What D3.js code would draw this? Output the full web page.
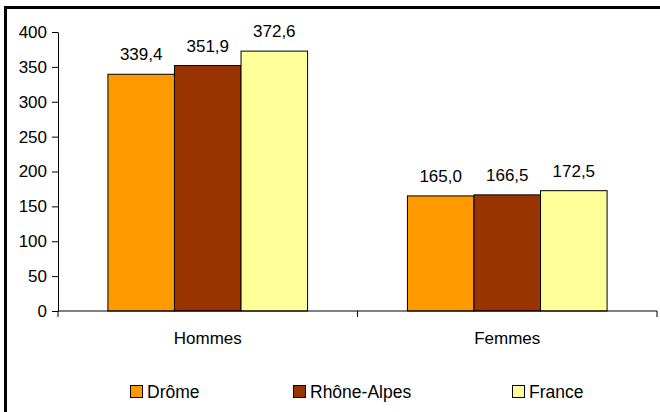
<!DOCTYPE html>
<html>
<head>
<meta charset="utf-8">
<script src="https://cdn.jsdelivr.net/npm/d3@7"></script>
<style>
  html, body { margin: 0; background: #fff; overflow: hidden; }
  svg { display: block; }
  text { font-family: "Liberation Sans", Arial, sans-serif; fill: #000; }
</style>
</head>
<body>
<div id="wrapper"></div>
<script>
const categories = ["Hommes", "Femmes"]
const seriesNames = ["Drôme", "Rhône-Alpes", "France"]
const seriesColors = ["#ff9900", "#993300", "#ffff99"]
const drome = [339.4, 165.0]
const rhoneAlpes = [351.9, 166.5]
const france = [372.6, 172.5]
const yTicks = [0, 50, 100, 150, 200, 250, 300, 350, 400]

const seriesValues = [drome, rhoneAlpes, france]
const dataset = categories.map((c, i) => ({
    category: c,
    values: seriesNames.map((s, j) => ({ series: s, value: seriesValues[j][i] }))
}))

let dimensions = {
    width: 660,
    height: 412,
    margin: { top: 32, right: 3, bottom: 101, left: 58 },
}
dimensions.boundedWidth = dimensions.width - dimensions.margin.left - dimensions.margin.right
dimensions.boundedHeight = dimensions.height - dimensions.margin.top - dimensions.margin.bottom

const wrapper = d3.select("#wrapper")
    .append("svg")
        .attr("width", dimensions.width)
        .attr("height", dimensions.height)

// frame: only the top and left edges show in the picture
wrapper.append("path")
    .attr("d", `M5.5,${dimensions.height} V7.5 H${dimensions.width}`)
    .attr("fill", "none")
    .attr("stroke", "#000")
    .attr("stroke-width", 3)

const bounds = wrapper.append("g")
    .attr("transform", `translate(${dimensions.margin.left},${dimensions.margin.top})`)

const yScale = d3.scaleLinear()
    .domain([0, 400])
    .range([dimensions.boundedHeight, 0])

const xScale = d3.scaleBand()
    .domain(categories)
    .range([0, dimensions.boundedWidth])

const xInner = d3.scaleBand()
    .domain(seriesNames)
    .range([xScale.bandwidth() / 6, xScale.bandwidth() * 5 / 6])

const colorScale = d3.scaleOrdinal().domain(seriesNames).range(seriesColors)

const fmt = v => v.toFixed(1).replace(".", ",")

// bars
const groups = bounds.selectAll(".group")
    .data(dataset)
    .join("g")
        .attr("transform", d => `translate(${xScale(d.category)},0)`)

groups.selectAll("rect")
    .data(d => d.values)
    .join("rect")
        .attr("x", d => xInner(d.series))
        .attr("width", xInner.bandwidth())
        .attr("y", d => yScale(d.value))
        .attr("height", d => yScale(0) - yScale(d.value))
        .attr("fill", d => colorScale(d.series))
        .attr("stroke", "#000")
        .attr("stroke-width", 1)

groups.selectAll(".val")
    .data(d => d.values)
    .join("text")
        .attr("x", d => xInner(d.series) + xInner.bandwidth() / 2)
        .attr("y", d => yScale(d.value) - 14)
        .attr("text-anchor", "middle")
        .style("font-size", "17px")
        .text(d => fmt(d.value))

// y axis
const yAxis = bounds.append("g")
    .call(d3.axisLeft(yScale).tickValues(yTicks).tickSize(6).tickSizeOuter(0).tickPadding(5))
yAxis.selectAll("text").style("font-size", "17px").attr("fill", "#000")
yAxis.selectAll("line, path").attr("stroke", "#000")

// x axis: line with ticks at category boundaries
const xAxis = bounds.append("g")
    .attr("transform", `translate(0,${dimensions.boundedHeight})`)
xAxis.append("line")
    .attr("x1", 0).attr("x2", dimensions.boundedWidth)
    .attr("stroke", "#000")
const boundaries = [0].concat(categories.map(c => xScale(c) + xScale.bandwidth()))
xAxis.selectAll(".tick")
    .data(boundaries)
    .join("line")
        .attr("x1", d => d).attr("x2", d => d)
        .attr("y1", 0).attr("y2", 6)
        .attr("stroke", "#000")
xAxis.selectAll(".lbl")
    .data(categories)
    .join("text")
        .attr("x", d => xScale(d) + xScale.bandwidth() / 2)
        .attr("y", 33)
        .attr("text-anchor", "middle")
        .style("font-size", "17px")
        .text(d => d)

// legend
const legendX = [130, 293, 512]
const legend = wrapper.append("g")
    .selectAll("g")
    .data(seriesNames)
    .join("g")
        .attr("transform", (d, i) => `translate(${legendX[i]},385)`)
legend.append("rect")
    .attr("x", 0.5).attr("y", 0.5)
    .attr("width", 12).attr("height", 12)
    .attr("fill", d => colorScale(d))
    .attr("stroke", "#000")
legend.append("text")
    .attr("x", 17)
    .attr("y", 13)
    .style("font-size", "17.5px")
    .text(d => d)
</script>
</body>
</html>
